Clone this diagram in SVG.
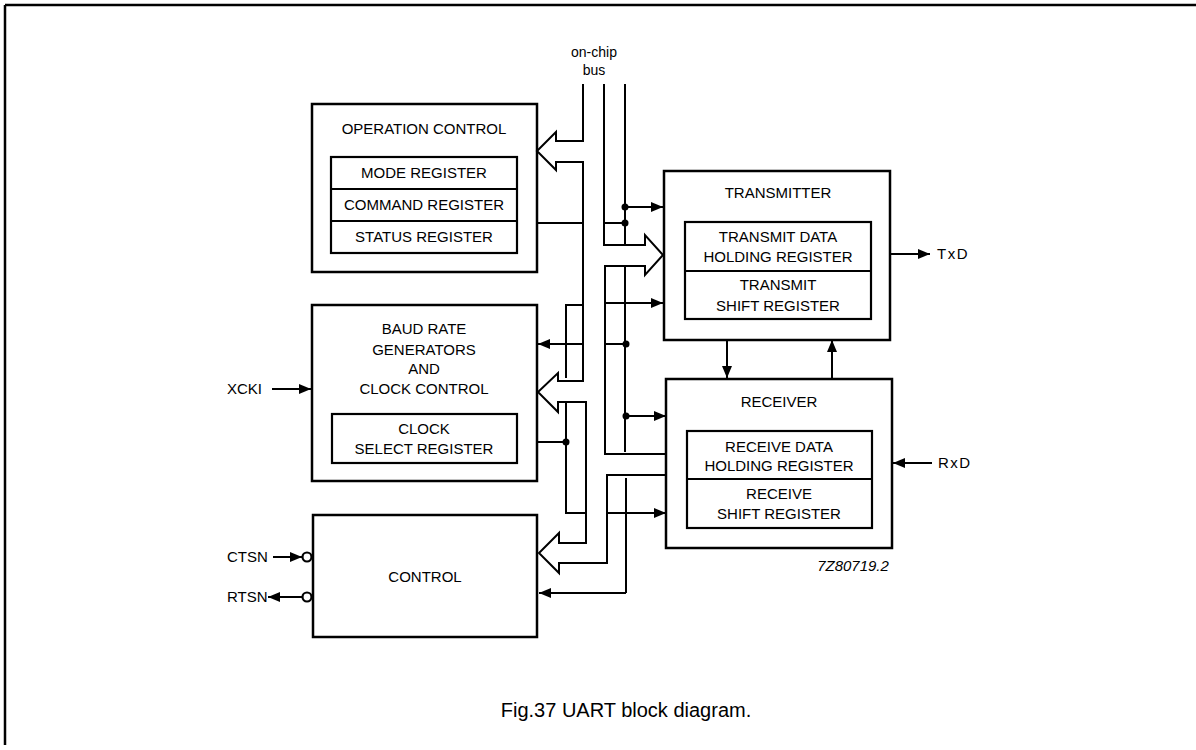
<svg xmlns="http://www.w3.org/2000/svg" width="1196" height="750" viewBox="0 0 1196 750">
<defs>
<marker id="ah" viewBox="0 0 12 10" refX="12" refY="5" markerWidth="12" markerHeight="10" markerUnits="userSpaceOnUse" orient="auto">
<path d="M0,0 L12,5 L0,10 z" fill="#000"/>
</marker>
</defs>
<style>
.box{fill:#fff;stroke:#000;stroke-width:2.5}
.inner{fill:none;stroke:#000;stroke-width:2.2}
.ln{fill:none;stroke:#000;stroke-width:2}
.arr{fill:none;stroke:#000;stroke-width:2;marker-end:url(#ah)}
.t{font-family:"Liberation Sans",Arial,Helvetica,sans-serif;font-size:15px;fill:#000;text-anchor:middle}
.lbl{font-family:"Liberation Sans",Arial,Helvetica,sans-serif;font-size:15px;fill:#000}
.small{font-size:14px}
.cap{font-size:20px}
.dot{fill:#000}
</style>
<rect width="1196" height="750" fill="#fff"/>
<g id="frame">
<path class="ln" d="M5,5 H1196 M5,5 V745" style="stroke-width:2.5"/>
</g>
<g id="bus-label">
<text class="t small" x="594" y="57">on-chip</text>
<text class="t small" x="594" y="75">bus</text>
</g>
<g id="operation-control">
<rect class="box" x="312" y="104" width="225" height="168"/>
<text class="t" x="424" y="134">OPERATION CONTROL</text>
<rect class="inner" x="331" y="157" width="186" height="96"/>
<path class="inner" d="M331,189 H517 M331,221 H517"/>
<text class="t" x="424" y="178">MODE REGISTER</text>
<text class="t" x="424" y="210">COMMAND REGISTER</text>
<text class="t" x="424" y="242">STATUS REGISTER</text>
</g>
<g id="baud-rate">
<rect class="box" x="312" y="305" width="225" height="176"/>
<text class="t" x="424" y="334">BAUD RATE</text>
<text class="t" x="424" y="355">GENERATORS</text>
<text class="t" x="424" y="374">AND</text>
<text class="t" x="424" y="394">CLOCK CONTROL</text>
<rect class="inner" x="332" y="414" width="185" height="49"/>
<text class="t" x="424" y="434">CLOCK</text>
<text class="t" x="424" y="454">SELECT REGISTER</text>
</g>
<g id="control">
<rect class="box" x="313" y="515" width="224" height="122"/>
<text class="t" x="425" y="582">CONTROL</text>
</g>
<g id="transmitter">
<rect class="box" x="664" y="171" width="226" height="169"/>
<text class="t" x="778" y="198">TRANSMITTER</text>
<rect class="inner" x="685" y="222" width="186" height="97"/>
<path class="inner" d="M685,271 H871"/>
<text class="t" x="778" y="242">TRANSMIT DATA</text>
<text class="t" x="778" y="262">HOLDING REGISTER</text>
<text class="t" x="778" y="290">TRANSMIT</text>
<text class="t" x="778" y="311">SHIFT REGISTER</text>
</g>
<g id="receiver">
<rect class="box" x="666" y="379" width="226" height="169"/>
<text class="t" x="779" y="407">RECEIVER</text>
<rect class="inner" x="687" y="431" width="185" height="97"/>
<path class="inner" d="M687,479 H872"/>
<text class="t" x="779" y="452">RECEIVE DATA</text>
<text class="t" x="779" y="471">HOLDING REGISTER</text>
<text class="t" x="779" y="499">RECEIVE</text>
<text class="t" x="779" y="519">SHIFT REGISTER</text>
<text class="t" x="853" y="571" style="font-style:italic">7Z80719.2</text>
</g>
<g id="connectors">
<path class="ln" d="M583,84 V141 H556 V132 L537,151 L556,170 V162 H583 V381 H558 V373 L538,392 L558,412 V402 H586 V543 H559 V533 L539,553 L559,573 V563 H607 V475 H666"/>
<path class="ln" d="M604,84 V245 H645 V235 L663,255 L645,275 V266 H605 V454 H666"/>
<path class="ln" d="M625,84 V245 M625,267 V452 M626,478 V593"/>
<path class="arr" d="M626,593 H539"/>
<path class="arr" d="M625,207 H663"/>
<path class="ln" d="M604,223 H625"/>
<path class="arr" d="M605,303 H663"/>
<path class="ln" d="M605,344 H626"/>
<path class="arr" d="M626,416 H666"/>
<path class="arr" d="M607,513 H666"/>
<circle class="dot" cx="625" cy="207" r="3.5"/>
<circle class="dot" cx="625" cy="223" r="3.5"/>
<circle class="dot" cx="626" cy="344" r="3.5"/>
<circle class="dot" cx="626" cy="416" r="3.5"/>
<path class="ln" d="M537,223 H583"/>
<path class="ln" d="M583,305 H566 V378 M566,403 V513 H587"/>
<path class="ln" d="M537,442 H566"/>
<circle class="dot" cx="566" cy="442" r="3.5"/>
<path class="arr" d="M583,344 H538"/>
<path class="arr" d="M727,340 V378"/>
<path class="arr" d="M832,379 V340"/>
<path class="arr" d="M890,254 H930"/>
<path class="arr" d="M932,463 H893"/>
<path class="arr" d="M272,389 H311"/>
<path class="arr" d="M273,557 H302"/>
<circle cx="307" cy="557" r="4.5" fill="#fff" stroke="#000" stroke-width="2.2"/>
<path class="arr" d="M302,597 H268"/>
<circle cx="307" cy="597" r="4.5" fill="#fff" stroke="#000" stroke-width="2.2"/>
</g>
<g id="pin-labels">
<text class="lbl" x="937" y="259" letter-spacing="1.5">TxD</text>
<text class="lbl" x="938" y="468" letter-spacing="1.5">RxD</text>
<text class="lbl" x="227" y="394">XCKI</text>
<text class="lbl" x="227" y="562">CTSN</text>
<text class="lbl" x="227" y="602">RTSN</text>
</g>
<g id="caption">
<text class="t cap" x="626" y="717">Fig.37 UART block diagram.</text>
</g>
</svg>
